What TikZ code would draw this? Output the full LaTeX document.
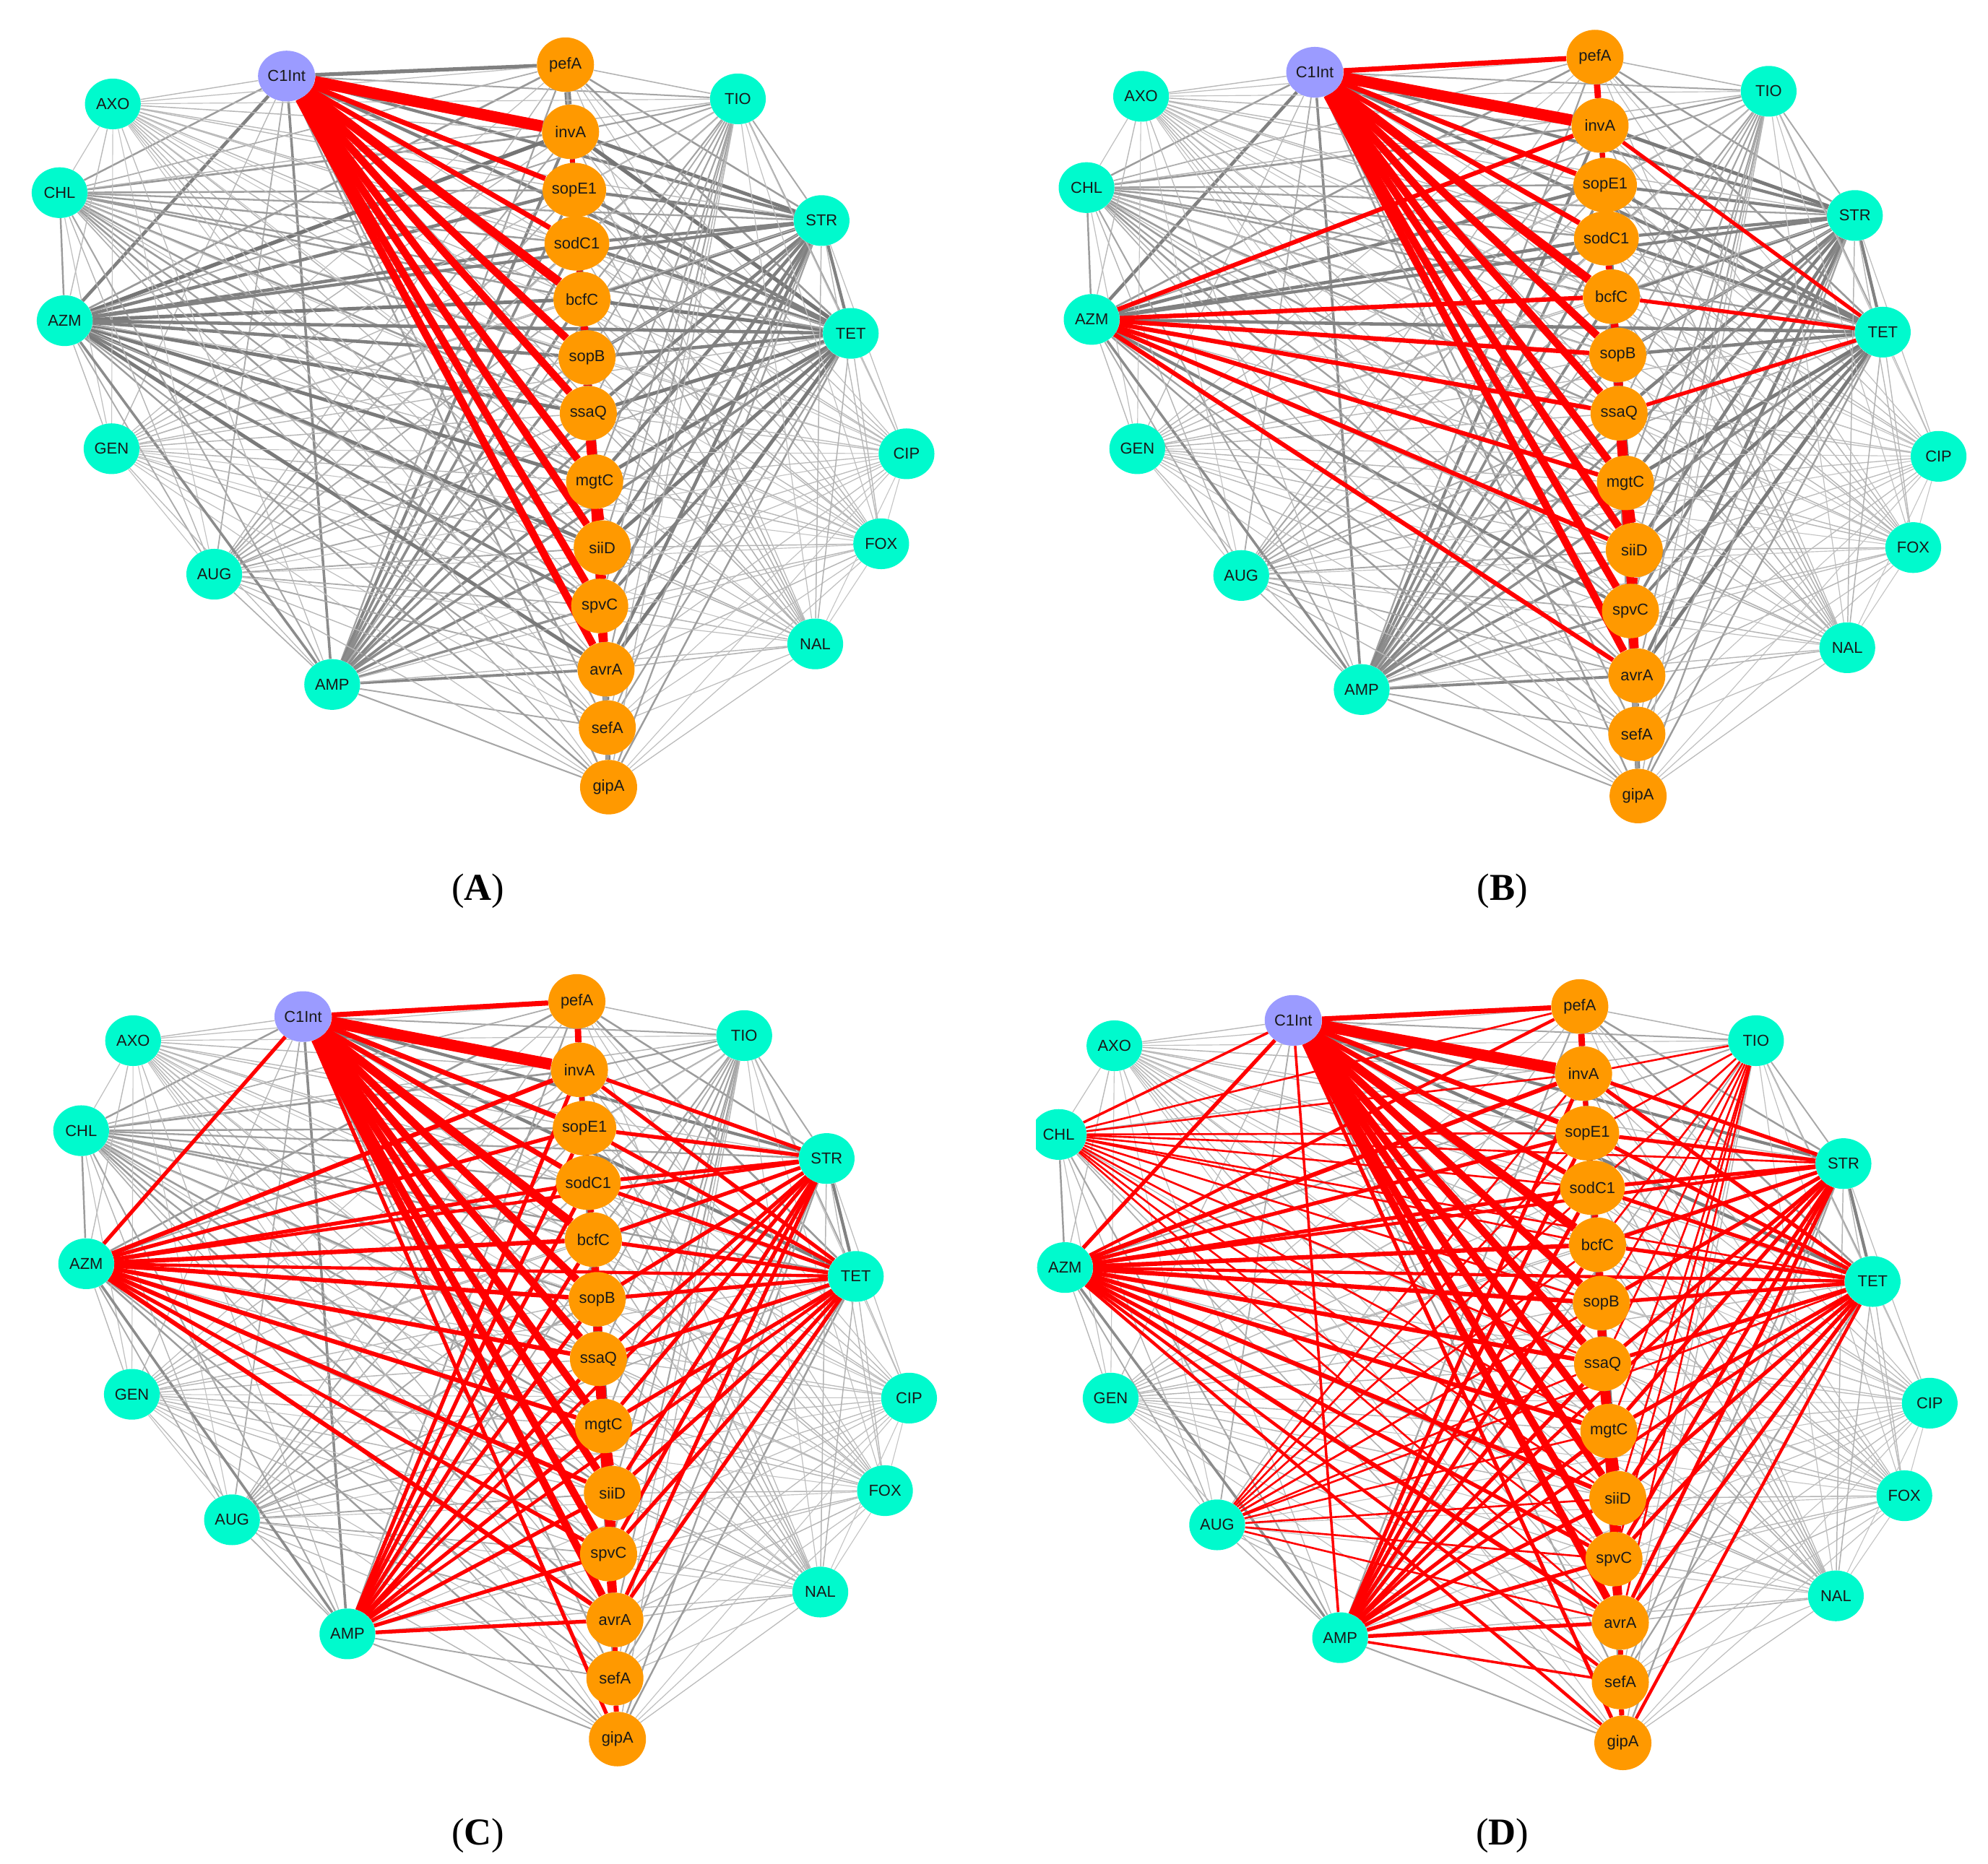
\documentclass[tikz,border=0pt]{standalone}
\usepackage{fontspec}
\setmainfont{Liberation Serif}
\setsansfont{Liberation Sans}
\usetikzlibrary{shapes.geometric}
\definecolor{antic}{RGB}{0,250,205}
\definecolor{genec}{RGB}{255,153,0}
\definecolor{hubc}{RGB}{155,155,255}
\pgfdeclarelayer{bgL}\pgfdeclarelayer{grayL}\pgfdeclarelayer{redL}\pgfdeclarelayer{front}
\pgfsetlayers{bgL,grayL,redL,main,front}
\tikzset{
  nd/.style={ellipse, inner sep=0pt, font=\sffamily\fontsize{12.5}{12.5}\selectfont, text=black!90},
  anti/.style={nd, fill=antic, minimum width=44pt, minimum height=40pt},
  gene/.style={nd, fill=genec, minimum width=45pt, minimum height=43pt},
  hub/.style={nd, fill=hubc, minimum width=45pt, minimum height=40pt},
  plabel/.style={font=\fontsize{30}{30}\selectfont}
}
\def\nodelist{C1Int/0.85,pefA/0.55,invA/0.95,sopE1/0.85,sodC1/0.85,bcfC/0.9,sopB/0.85,ssaQ/0.9,mgtC/0.9,siiD/0.9,spvC/0.8,avrA/0.9,sefA/0.45,gipA/0.5,AXO/0.2,CHL/0.5,AZM/0.85,GEN/0.2,AUG/0.35,AMP/0.7,TIO/0.4,STR/0.8,TET/0.85,CIP/0.15,FOX/0.2,NAL/0.25}
\newcommand\panelnodes[4]{%
  \node[hub] (#1-C1Int) at (#2) {C1Int};
  \foreach \n/\x/\y in {#3} {\node[gene] (#1-\n) at (\x,\y) {\n};}
  \foreach \n/\x/\y in {#4} {\node[anti] (#1-\n) at (\x,\y) {\n};}
}
\newcommand\redE[4]{%
  \foreach \tg in {#4}{%
    \draw[draw=red, line width=#3pt] (#1-#2) -- (#1-\tg);
    \xdef\redlist{\redlist#2-\tg,\tg-#2,}%
  }}
\newcommand\grayE[4]{%
  \foreach \tg in {#4}{%
    \draw[draw=black!50, line width=#3pt] (#1-#2) -- (#1-\tg);
    \xdef\redlist{\redlist#2-\tg,\tg-#2,}%
  }}
\makeatletter
\newcommand\grayedges[1]{%
  \foreach \a/\wa [count=\i] in \nodelist {%
    \foreach \b/\wb [count=\j] in \nodelist {%
      \ifnum\j>\i
        \edef\tmp{\noexpand\in@{,\a-\b,}{\redlist}}\tmp
        \ifin@\else
          \pgfmathsetmacro\pp{\wa*\wb}%
          \pgfmathsetmacro\lw{0.6+3.0*\pp*\pp+0.6*\pp}%
          \pgfmathsetmacro\gg{int(22+40*\pp)}%
          \draw[line width=\lw pt, draw=black!\gg] (#1-\a) -- (#1-\b);
        \fi
      \fi
    }}}
\makeatother
\newcommand\redsetA[1]{%
  \redE{#1}{C1Int}{9}{invA}
  \redE{#1}{C1Int}{7}{bcfC}
  \redE{#1}{C1Int}{4}{sopE1,sodC1}
  \redE{#1}{C1Int}{6}{sopB,ssaQ,mgtC,siiD,spvC,avrA}
  \redE{#1}{invA}{4}{sopE1}
  \redE{#1}{sopE1}{4}{sodC1}
  \redE{#1}{sodC1}{5}{bcfC}
  \redE{#1}{bcfC}{6}{sopB}
  \redE{#1}{sopB}{7}{ssaQ}
  \redE{#1}{ssaQ}{8}{mgtC}
  \redE{#1}{mgtC}{8}{siiD}
  \redE{#1}{siiD}{8}{spvC}
  \redE{#1}{spvC}{7}{avrA}
  \redE{#1}{ssaQ}{6}{avrA}
}
\newcommand\grayset[1]{%
  \grayE{#1}{avrA}{4}{sefA}
  \grayE{#1}{sefA}{4}{gipA}
}
\newcommand\redsetB[1]{%
  \redE{#1}{C1Int}{4}{pefA}
  \redE{#1}{pefA}{5}{invA}
  \redE{#1}{AZM}{3.5}{invA,bcfC,sopB,ssaQ,mgtC,siiD,avrA}
  \redE{#1}{TET}{3}{invA,bcfC,ssaQ}
}
\newcommand\redsetC[1]{%
  \redE{#1}{C1Int}{3}{AZM,gipA}
  \redE{#1}{AZM}{3}{sopE1,sodC1,spvC}
  \redE{#1}{AMP}{3}{invA,sopE1,sodC1,bcfC,sopB,ssaQ,mgtC,siiD,spvC,avrA}
  \redE{#1}{STR}{3}{invA,sopE1,sodC1,bcfC,sopB,ssaQ,mgtC,siiD,spvC,avrA}
  \redE{#1}{TET}{3}{sopE1,sodC1,sopB,mgtC,siiD,spvC,avrA}
  \redE{#1}{AZM}{2.5}{STR,TET}
  \redE{#1}{AMP}{2.5}{STR,TET}
  \redE{#1}{avrA}{4}{sefA}
  \redE{#1}{sefA}{4}{gipA}
}
\newcommand\redsetD[1]{%
  \redE{#1}{C1Int}{2}{CHL,AMP}
  \redE{#1}{CHL}{1.5}{pefA,invA,sopE1,sodC1,bcfC,sopB,ssaQ,mgtC,siiD,spvC,avrA,STR,TET}
  \redE{#1}{AUG}{1.5}{invA,sopE1,sodC1,bcfC,sopB,ssaQ,mgtC,siiD,spvC,avrA,STR,TET}
  \redE{#1}{TIO}{1.5}{invA,sopE1,sodC1,bcfC,sopB,ssaQ,mgtC,siiD,spvC,avrA}
  \redE{#1}{AZM}{2.5}{pefA,sefA,gipA}
  \redE{#1}{TET}{2.5}{gipA}
  \redE{#1}{AMP}{2}{sefA}
}
\begin{document}
\begin{tikzpicture}[x=1pt,y=-1pt]
\begin{pgfonlayer}{bgL}
\fill[white] (0,0) rectangle (1568,1470);
\end{pgfonlayer}
\useasboundingbox (0,0) rectangle (1568,1470);
% ---------- nodes ----------
\panelnodes{A}{226,60}%
 {pefA/446/51,invA/450/104,sopE1/453/150,sodC1/455/192,bcfC/459/236,sopB/463/282,ssaQ/464/326,mgtC/469/380,siiD/475/432,spvC/473/478,avrA/478/528,sefA/479/574,gipA/480/621}%
 {AXO/89/82,CHL/47/152,AZM/51/253,GEN/88/354,AUG/169/453,AMP/262/540,TIO/582/78,STR/648/174,TET/671/263,CIP/715/358,FOX/695/429,NAL/643/508}
\panelnodes{B}{1037,57}%
 {pefA/1258/45,invA/1262/99,sopE1/1266/146,sodC1/1267/188,bcfC/1271/234,sopB/1276/280,ssaQ/1277/326,mgtC/1282/381,siiD/1289/434,spvC/1286/482,avrA/1291/533,sefA/1291/579,gipA/1292/628}%
 {AXO/900/76,CHL/857/148,AZM/861/252,GEN/897/354,AUG/979/454,AMP/1074/544,TIO/1395/72,STR/1463/170,TET/1485/262,CIP/1529/360,FOX/1509/432,NAL/1457/511}
\panelnodes{C}{239,802}%
 {pefA/455/790,invA/457/844,sopE1/461/890,sodC1/464/933,bcfC/468/978,sopB/471/1025,ssaQ/472/1072,mgtC/476/1125,siiD/483/1178,spvC/480/1226,avrA/485/1278,sefA/485/1324,gipA/487/1372}%
 {AXO/105/821,CHL/64/892,AZM/68/997,GEN/104/1100,AUG/183/1199,AMP/274/1289,TIO/587/817,STR/652/914,TET/675/1007,CIP/717/1103,FOX/698/1176,NAL/647/1256}
\panelnodes{D}{1020,805}%
 {pefA/1246/794,invA/1249/847,sopE1/1252/894,sodC1/1256/937,bcfC/1260/982,sopB/1263/1028,ssaQ/1264/1076,mgtC/1269/1129,siiD/1276/1182,spvC/1273/1230,avrA/1278/1280,sefA/1278/1327,gipA/1280/1375}%
 {AXO/879/825,CHL/835/895,AZM/840/1000,GEN/876/1103,AUG/960/1203,AMP/1057/1292,TIO/1385/821,STR/1454/918,TET/1477/1011,CIP/1522/1107,FOX/1502/1180,NAL/1448/1259}
% ---------- panel labels ----------
\node[plabel] (labA) at (377,703) {(\textbf{A})};
\node[plabel] (labB) at (1185,703) {(\textbf{B})};
\node[plabel] (labC) at (377,1448) {(\textbf{C})};
\node[plabel] (labD) at (1185,1448) {(\textbf{D})};
% ---------- edges ----------
\gdef\redlist{,}
\begin{pgfonlayer}{redL}\redsetA{A}\end{pgfonlayer}
\begin{pgfonlayer}{grayL}\grayE{A}{C1Int}{3}{pefA}\grayE{A}{pefA}{5}{invA}\grayset{A}\grayedges{A}\end{pgfonlayer}
\gdef\redlist{,}
\begin{pgfonlayer}{redL}\redsetA{B}\redsetB{B}\end{pgfonlayer}
\begin{pgfonlayer}{grayL}\grayset{B}\grayedges{B}\end{pgfonlayer}
\gdef\redlist{,}
\begin{pgfonlayer}{redL}\redsetA{C}\redsetB{C}\redsetC{C}\end{pgfonlayer}
\begin{pgfonlayer}{grayL}\grayedges{C}\end{pgfonlayer}
\gdef\redlist{,}
\begin{pgfonlayer}{redL}\redsetA{D}\redsetB{D}\redsetC{D}\redsetD{D}\end{pgfonlayer}
\begin{pgfonlayer}{grayL}\grayedges{D}\end{pgfonlayer}
\begin{pgfonlayer}{front}
\fill[white] (795,840) rectangle (817,1050);
\end{pgfonlayer}
\end{tikzpicture}
\end{document}
